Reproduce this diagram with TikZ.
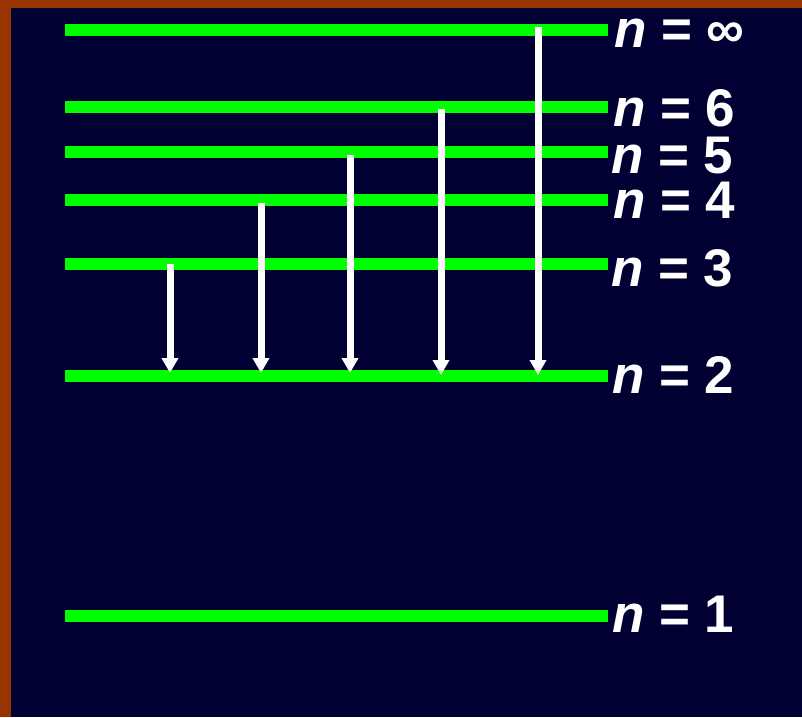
\documentclass[tikz,border=0pt]{standalone}
\usepackage{fontspec}
\setmainfont{Liberation Sans}
\usetikzlibrary{arrows.meta}
\definecolor{frame}{HTML}{993300}
\definecolor{navy}{HTML}{000033}
\definecolor{lev}{HTML}{00FF00}
\tikzset{
  level/.style={draw=lev, line width=12pt},
  trans/.style={draw=white, line width=7pt, -{Triangle[width=16pt,length=15pt]}},
  lab/.style={anchor=base west, inner sep=0pt, text=white, font=\fontsize{53}{53}\selectfont\bfseries}
}
\begin{document}
\begin{tikzpicture}[x=1pt,y=-1pt]
\useasboundingbox (0,0) rectangle (802,717);
\fill[frame] (0,0) rectangle (802,717);
\fill[navy] (11,8) rectangle (802,717);
% level coordinates
\foreach \nm/\yy in {inf/30, six/107, five/152, four/200, three/264, two/376, one/616}{
  \coordinate (\nm L) at (65,\yy);
  \coordinate (\nm R) at (608,\yy);
}
\foreach \nm in {inf,six,five,four,three,two,one}{
  \draw[level] (\nm L) -- (\nm R);
}
% labels
\node[lab] (linf) at (614,48) {\textit{n} = ∞};
\node[lab] (lsix) at (613,126) {\textit{n} = 6};
\node[lab] (lfive) at (611,173) {\textit{n} = 5};
\node[lab] (lfour) at (613,218) {\textit{n} = 4};
\node[lab] (lthree) at (611,286) {\textit{n} = 3};
\node[lab] (ltwo) at (612,393) {\textit{n} = 2};
\node[lab] (lone) at (612,632) {\textit{n} = 1};
% transitions
\coordinate (a3) at (170,264); \coordinate (b3) at (170,373);
\coordinate (a4) at (261,203); \coordinate (b4) at (261,373);
\coordinate (a5) at (350,155); \coordinate (b5) at (350,373);
\coordinate (a6) at (441,109); \coordinate (b6) at (441,375);
\coordinate (ai) at (538,27);  \coordinate (bi) at (538,375);
\draw[trans] (a3) -- (b3);
\draw[trans] (a4) -- (b4);
\draw[trans] (a5) -- (b5);
\draw[trans] (a6) -- (b6);
\draw[trans] (ai) -- (bi);
\end{tikzpicture}
\end{document}
